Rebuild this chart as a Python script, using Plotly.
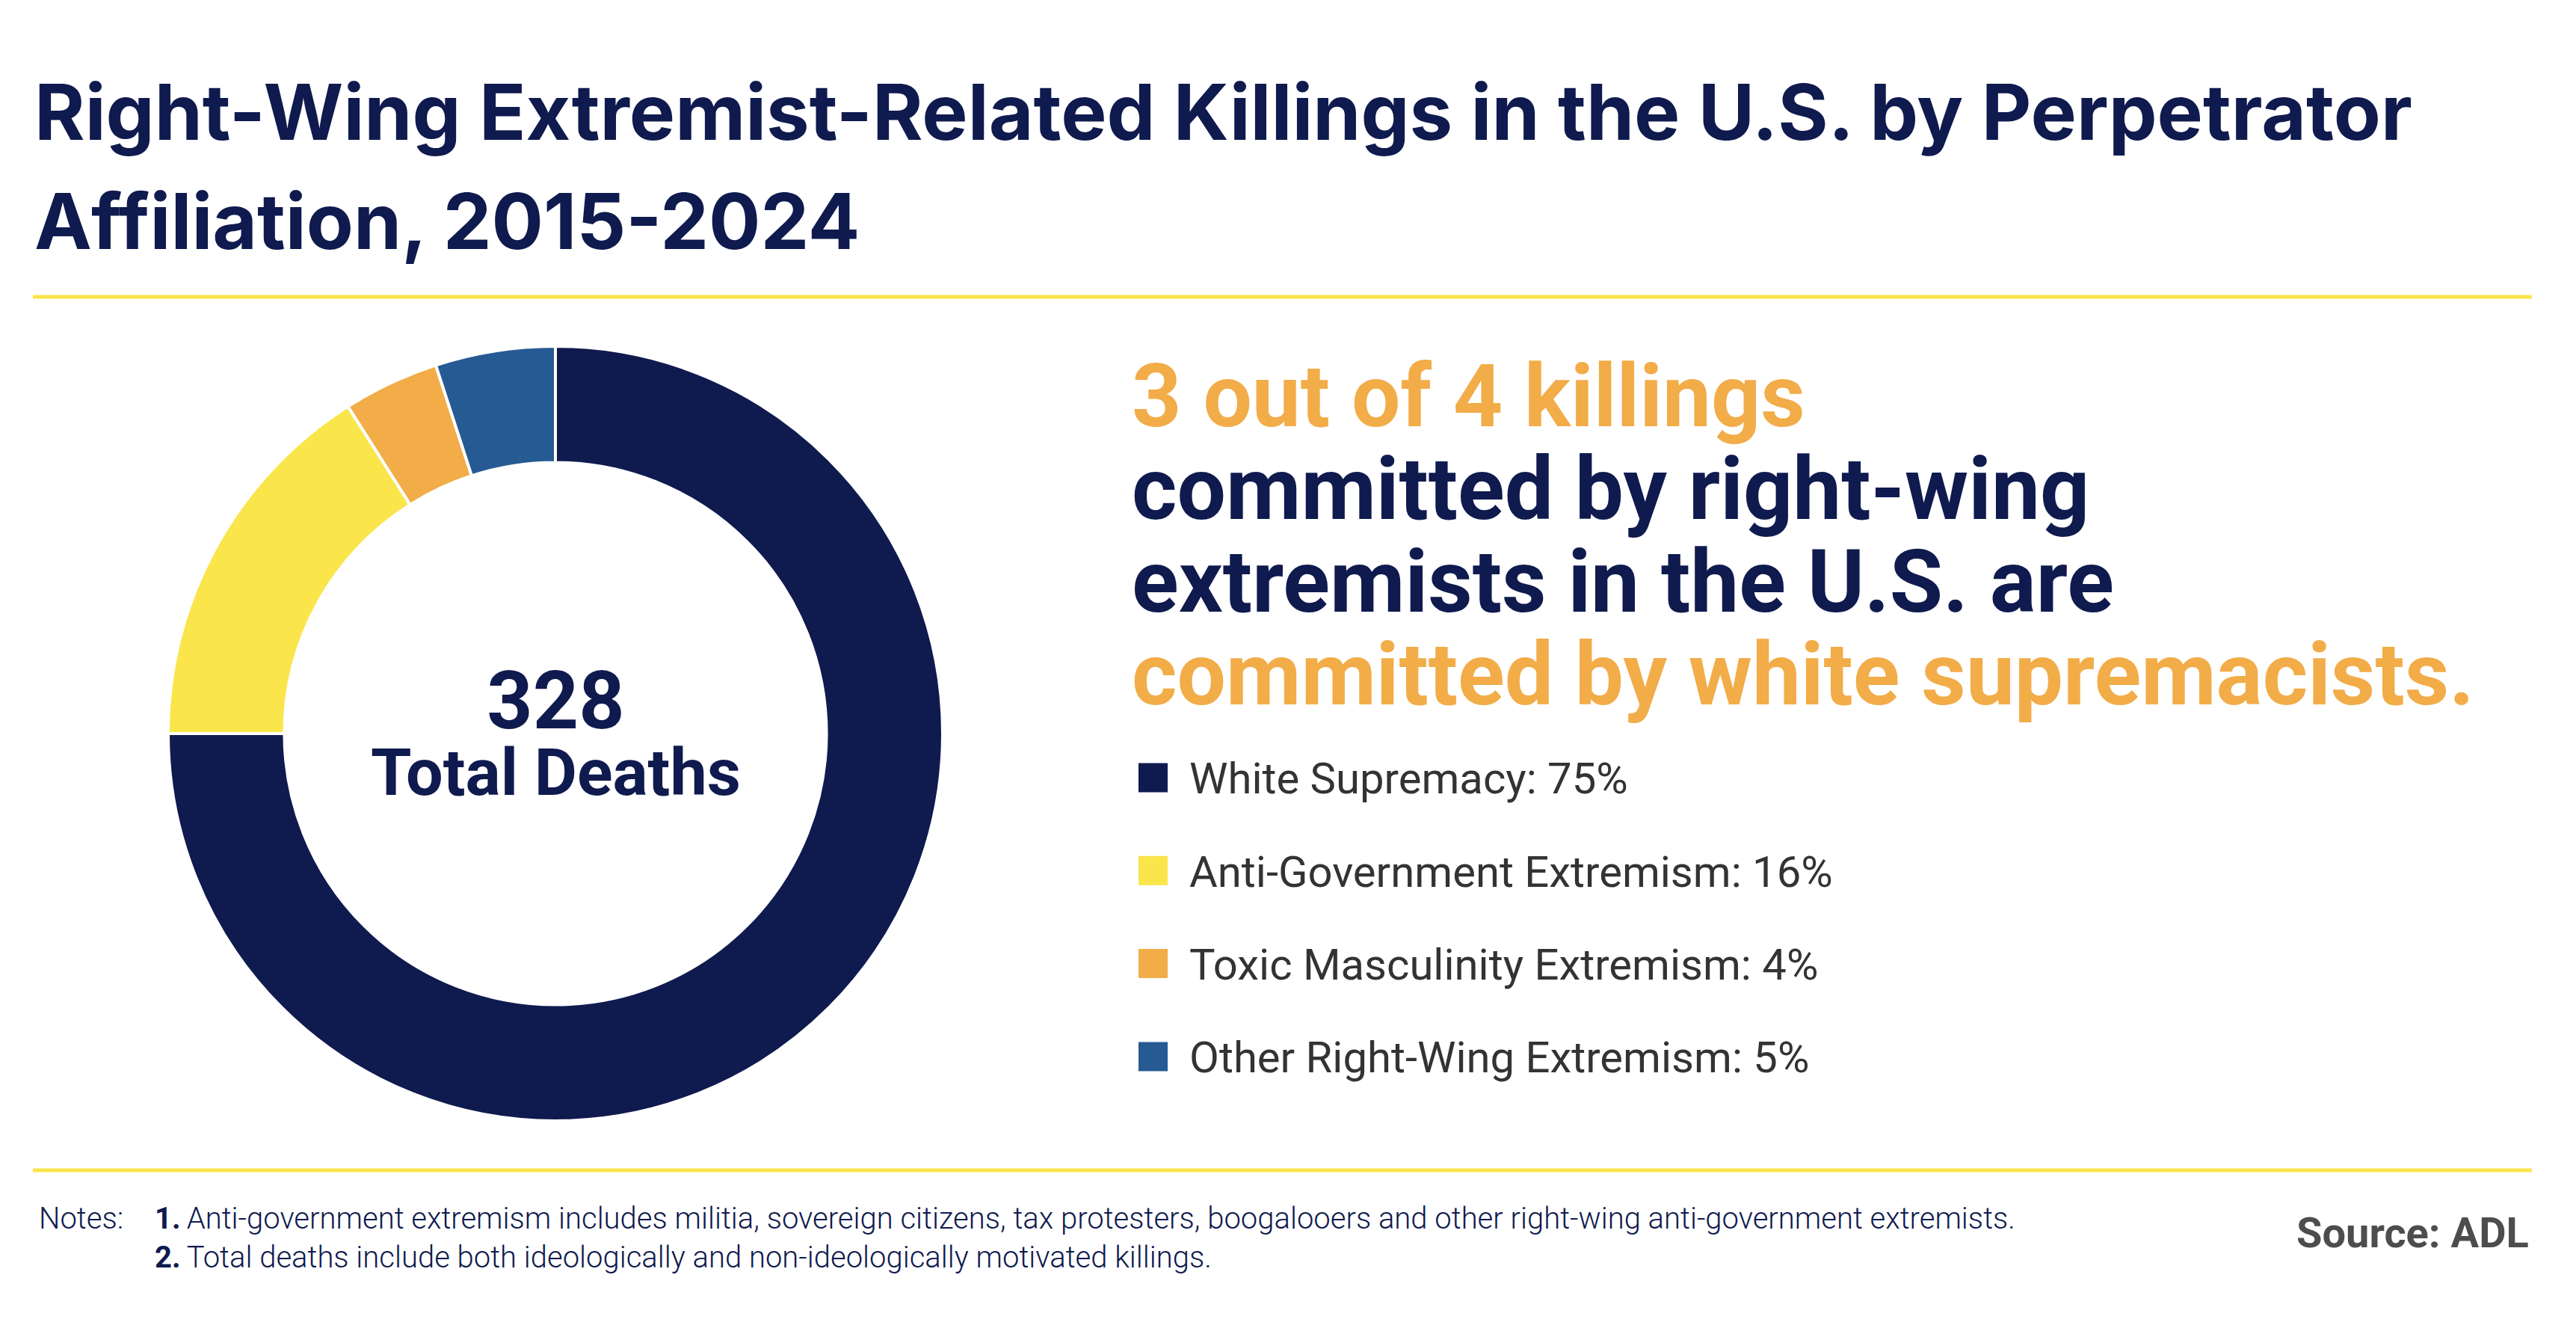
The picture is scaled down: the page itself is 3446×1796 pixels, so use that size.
import plotly.graph_objects as go

# ---------------- data ----------------
categories = ["White Supremacy", "Anti-Government Extremism",
              "Toxic Masculinity Extremism", "Other Right-Wing Extremism"]
percent_values = [75, 16, 4, 5]
total_deaths = 328
colors = ["#0F1A4E", "#FAE54B", "#F2AC48", "#265A93"]

title_lines = ["Right-Wing Extremist-Related Killings in the U.S. by Perpetrator",
               "Affiliation, 2015-2024"]
headline_lines = ["3 out of 4 killings", "committed by right-wing",
                  "extremists in the U.S. are", "committed by white supremacists."]
notes_lines = ["Anti-government extremism includes militia, sovereign citizens, tax protesters, boogalooers and other right-wing anti-government extremists.",
               "Total deaths include both ideologically and non-ideologically motivated killings."]
source_text = "Source: ADL"

# ---------------- layout helpers ----------------
W, H = 3446, 1796
NAVY = "#0F1A4E"
ORANGE = "#F2AC48"
YELLOW = "#FAE54B"


def px(x):
    return x / W


def py(y):
    return 1 - y / H


annotations = []
shapes = []


def text_at(x, baseline, text, size, color, family="Roboto", weight=400,
            xanchor="left", k=0.34, align="left"):
    annotations.append(dict(
        x=px(x), y=py(baseline - k * size), xref="paper", yref="paper",
        xanchor=xanchor, yanchor="middle", showarrow=False, text=text,
        font=dict(family=family, size=size, color=color, weight=weight),
        align=align))


# title
text_at(44, 187, title_lines[0], 103, NAVY, family="Inter", weight=700, k=0.36)
text_at(44, 333, title_lines[1], 103, NAVY, family="Inter", weight=700, k=0.36)

# yellow rules
for yline in (397, 1565):
    shapes.append(dict(type="line", xref="paper", yref="paper",
                       x0=px(44), x1=px(3387), y0=py(yline), y1=py(yline),
                       line=dict(color=YELLOW, width=5)))

# donut
cx, cy, R = 743, 981, 518
fig = go.Figure()
fig.add_trace(go.Pie(
    labels=categories, values=percent_values, sort=False,
    direction="clockwise", rotation=0, hole=0.70,
    marker=dict(colors=colors, line=dict(color="white", width=4)),
    textinfo="none", hoverinfo="label+percent", showlegend=False,
    domain=dict(x=[px(cx - R), px(cx + R)], y=[py(cy + R), py(cy - R)]),
))

# center text (one block, two lines)
center_text = (f"<b><span style='font-size:107px'>{total_deaths}</span></b><br>"
               f"<b><span style='font-size:88px'>Total Deaths</span></b>")
annotations.append(dict(
    x=px(cx), y=py(980), xref="paper", yref="paper", xanchor="center",
    yanchor="middle", showarrow=False, text=center_text, align="center",
    font=dict(family="Roboto", size=68.5, color=NAVY)))

# headline
head_colors = [ORANGE, NAVY, NAVY, ORANGE]
for i, (line, col) in enumerate(zip(headline_lines, head_colors)):
    text_at(1512, 569 + i * 124, f"<b>{line}</b>", 116, col)

# legend
for i, (cat, pct, col) in enumerate(zip(categories, percent_values, colors)):
    yc = 1040 + i * 124.3
    shapes.append(dict(type="rect", xref="paper", yref="paper",
                       x0=px(1523), x1=px(1562), y0=py(yc + 19.5), y1=py(yc - 19.5),
                       fillcolor=col, line=dict(width=0)))
    text_at(1589, yc + 21, f"{cat}: {pct}%", 58, "#333333")

# notes
text_at(50, 1643, "Notes:", 40, NAVY, weight=300)
for i, note in enumerate(notes_lines):
    text_at(205, 1643 + i * 52, f"<b>{i + 1}.</b>\u2009{note}", 40, NAVY, weight=300)

# source
text_at(3385, 1668, f"<b>{source_text}</b>", 56, "#4D4D4D", xanchor="right")

fig.update_layout(
    width=W, height=H, margin=dict(l=0, r=0, t=0, b=0),
    paper_bgcolor="white", plot_bgcolor="white",
    annotations=annotations, shapes=shapes,
)

fig.write_html("out.html", config={"displayModeBar": False},
               post_script="document.body.style.margin='0';document.body.style.padding='0';")
